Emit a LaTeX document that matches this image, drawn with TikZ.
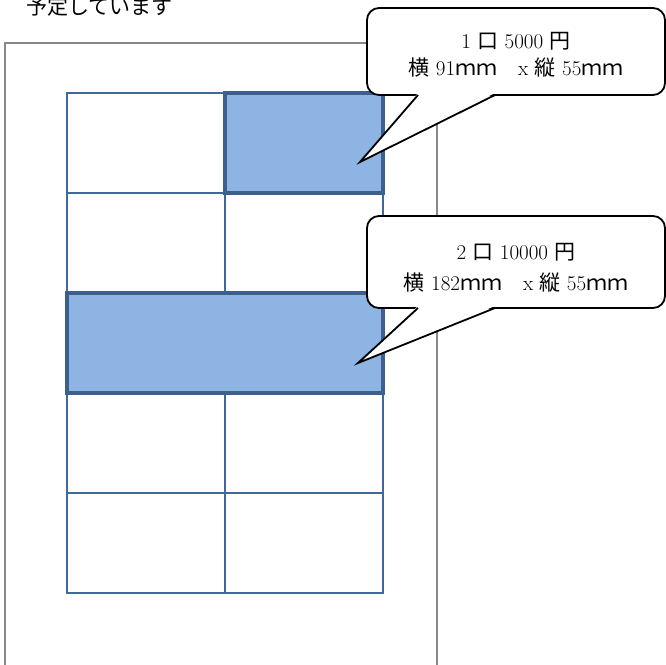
\documentclass[tikz,border=0pt]{standalone}
\usepackage{fontspec}
\usetikzlibrary{fit}
\newfontfamily\jp{Noto Sans CJK JP}
\newcommand{\J}[1]{{\jp #1}}
\definecolor{gridblue}{HTML}{41689C}
\definecolor{boldblue}{HTML}{3C5F8E}
\definecolor{cellfill}{HTML}{8EB4E3}
\definecolor{framegray}{HTML}{888888}
\tikzset{
  cell/.style={draw=gridblue, line width=2, minimum width=158, minimum height=100, inner sep=0, outer sep=0},
  hicell/.style={draw=boldblue, line width=4, fill=cellfill, inner sep=0, outer sep=0},
  callbox/.style={draw=black, line width=1.8, fill=white, rounded corners=12, inner sep=0},
  calltext/.style={inner sep=0, align=center},
  pointer/.style={draw=black, line width=1.8, line join=miter},
}
\begin{document}
\begin{tikzpicture}[x=1pt,y=-1pt]
\useasboundingbox (0,0) rectangle (666,664);
% header text
\node[anchor=base west, inner sep=0, font=\fontsize{21}{21}\selectfont] (hdr) at (26,14) {\J{予定しています}};
% outer frame (open at the bottom)
\draw[framegray, line width=2] (5,680) -- (5,43) -- (437,43) -- (437,680);
% grid cells
\foreach \r in {1,...,5}{
  \foreach \c in {1,2}{
    \node[cell, anchor=north west] (cell\r\c) at ({67+(\c-1)*158},{93+(\r-1)*100}) {};
  }
}
% highlighted cells
\node[hicell, fit=(cell12)] (hi1) {};
\node[hicell, fit=(cell31)(cell32)] (hi2) {};
% callout 1
\node[callbox, minimum width=298, minimum height=87] (c1) at (516,51.5) {};
\node[calltext, font=\fontsize{21}{27}\selectfont] (c1text) at ([yshift=-3.5pt]c1.center)
  {1 \J{口} 5000 \J{円}\\\J{横} 91\J{ｍｍ　}x \J{縦} 55\J{ｍｍ}};
\coordinate (t1) at (360,162);
\fill[white] (418,93) -- (t1) -- (495,93) -- cycle;
\draw[pointer] (418,95) -- (t1) -- (495,95);
% callout 2
\node[callbox, minimum width=298, minimum height=92] (c2) at (516,262) {};
\node[calltext, font=\fontsize{21}{31}\selectfont] (c2text) at ([yshift=-5.5pt]c2.center)
  {2 \J{口} 10000 \J{円}\\\J{横} 182\J{ｍｍ　}x \J{縦} 55\J{ｍｍ}};
\coordinate (t2) at (358,363);
\fill[white] (418,306) -- (t2) -- (495,306) -- cycle;
\draw[pointer] (418,308) -- (t2) -- (495,308);
\end{tikzpicture}
\end{document}
